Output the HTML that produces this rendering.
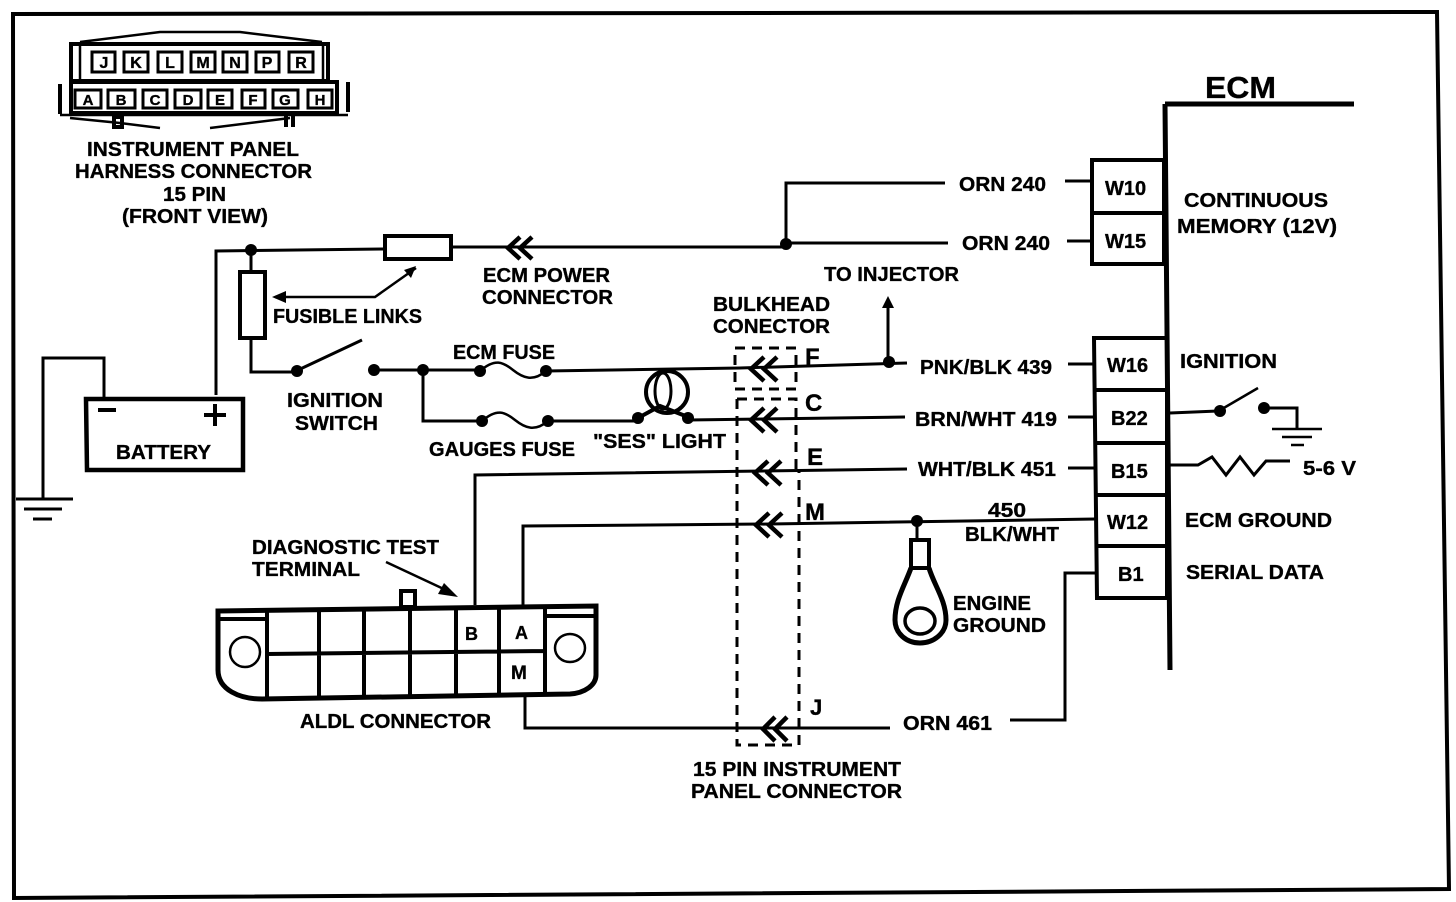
<!DOCTYPE html>
<html><head><meta charset="utf-8"><style>
html,body{margin:0;padding:0;background:#fff}
svg{display:block}
text{font-family:"Liberation Sans",sans-serif;font-weight:bold;fill:#000;stroke:#000;stroke-width:.35;font-size:20px}
.l{fill:none;stroke:#000;stroke-width:3}
.t{fill:none;stroke:#000;stroke-width:2.5}
.b{fill:none;stroke:#000;stroke-width:4}
.p{fill:none;stroke:#000;stroke-width:3}
.d{fill:none;stroke:#000;stroke-width:3;stroke-dasharray:10 7}
.a{fill:none;stroke:#000;stroke-width:4.5}
</style></head><body>
<svg width="1456" height="902" viewBox="0 0 1456 902" xmlns="http://www.w3.org/2000/svg">
<rect width="1456" height="902" fill="#fff"/>
<path d="M13 14L1437 12L1449 889L14 898Z" fill="none" stroke="#000" stroke-width="4"/>

<!-- front connector -->
<g>
<path class="b" d="M71 44H328V81H71Z"/><path class="t" d="M80 44V80M323 44V80M80 42L160 32H240L322 42"/>
<path class="b" d="M71 82H337V113H71Z"/>
<path class="b" d="M60 84V114M348 82V112" stroke-width="5"/>
<path class="t" d="M60 115H348M70 118L120 123 160 128M210 128L290 118"/>
<g class="p"><rect x="92" y="52" width="23" height="20"/><rect x="124" y="52" width="24" height="20"/><rect x="158" y="52" width="24" height="20"/><rect x="191" y="52" width="24" height="20"/><rect x="223" y="52" width="24" height="20"/><rect x="256" y="52" width="23" height="20"/><rect x="289" y="52" width="24" height="20"/>
<rect x="75" y="90" width="26" height="18"/><rect x="108" y="90" width="27" height="18"/><rect x="143" y="90" width="24" height="18"/><rect x="175" y="90" width="26" height="18"/><rect x="208" y="90" width="24" height="18"/><rect x="242" y="90" width="23" height="18"/><rect x="273" y="90" width="25" height="18"/><rect x="308" y="90" width="24" height="18"/></g>
<rect x="114" y="117" width="8" height="10" class="b"/><path class="b" d="M286 115V127M293 115V127"/>
<g text-anchor="middle">
<text x="104" y="68" style="font-size:16px">J</text><text x="136" y="68" style="font-size:16px">K</text><text x="170" y="68" style="font-size:16px">L</text><text x="203" y="68" style="font-size:16px">M</text><text x="235" y="68" style="font-size:16px">N</text><text x="267" y="68" style="font-size:16px">P</text><text x="301" y="68" style="font-size:16px">R</text>
<text x="88" y="105" style="font-size:15px">A</text><text x="121" y="105" style="font-size:15px">B</text><text x="155" y="105" style="font-size:15px">C</text><text x="188" y="105" style="font-size:15px">D</text><text x="220" y="105" style="font-size:15px">E</text><text x="253" y="105" style="font-size:15px">F</text><text x="285" y="105" style="font-size:15px">G</text><text x="320" y="105" style="font-size:15px">H</text>
</g>
</g>
<text x="87" y="156" textLength="212" lengthAdjust="spacingAndGlyphs">INSTRUMENT PANEL</text>
<text x="75" y="178" textLength="237" lengthAdjust="spacingAndGlyphs">HARNESS CONNECTOR</text>
<text x="163" y="201" textLength="63" lengthAdjust="spacingAndGlyphs">15 PIN</text>
<text x="122" y="223" textLength="146" lengthAdjust="spacingAndGlyphs">(FRONT VIEW)</text>

<!-- ECM -->
<text x="1205" y="98" style="font-size:31px" textLength="71" lengthAdjust="spacingAndGlyphs">ECM</text>
<path d="M1165 104H1354M1165 104L1170 670" fill="none" stroke="#000" stroke-width="5"/>
<path class="b" d="M1092 160H1164V264H1092ZM1092 213H1164"/>
<path class="b" d="M1094 338H1167V598H1097L1094 338ZM1095 390H1167M1095 443H1167M1096 495H1167M1097 546H1167"/>
<g>
<text x="1105" y="195">W10</text><text x="1105" y="248">W15</text><text x="1107" y="372">W16</text><text x="1111" y="425">B22</text><text x="1111" y="478">B15</text><text x="1107" y="529">W12</text><text x="1118" y="581">B1</text>
</g>
<text x="1184" y="207" textLength="144" lengthAdjust="spacingAndGlyphs">CONTINUOUS</text>
<text x="1177" y="233" textLength="160" lengthAdjust="spacingAndGlyphs">MEMORY (12V)</text>
<text x="1180" y="368" textLength="97" lengthAdjust="spacingAndGlyphs">IGNITION</text>
<text x="1185" y="527" textLength="147" lengthAdjust="spacingAndGlyphs">ECM GROUND</text>
<text x="1186" y="579" textLength="138" lengthAdjust="spacingAndGlyphs">SERIAL DATA</text>
<text x="1303" y="475" textLength="53" lengthAdjust="spacingAndGlyphs">5-6 V</text>

<!-- top wires -->
<path class="l" d="M786 243V183H945M1065 181H1091M786 243H948M1067 241H1091"/>
<path class="l" d="M216 395V251L384 249M452 247H786"/>
<circle cx="786" cy="244" r="6"/><circle cx="251" cy="250" r="6"/>
<rect x="385" y="236" width="66" height="23" class="b"/>
<path class="a" d="M520 237L508 248 520 259M532 237L520 248 532 259"/>
<text x="959" y="191" textLength="87" lengthAdjust="spacingAndGlyphs">ORN 240</text>
<text x="962" y="250" textLength="88" lengthAdjust="spacingAndGlyphs">ORN 240</text>
<text x="483" y="282" textLength="127" lengthAdjust="spacingAndGlyphs">ECM POWER</text>
<text x="482" y="304" textLength="131" lengthAdjust="spacingAndGlyphs">CONNECTOR</text>

<!-- fusible -->
<path class="l" d="M251 250V271"/>
<rect x="240" y="272" width="25" height="66" class="b"/>
<path class="l" d="M251 338V372H296M296 371L362 340M374 370H476"/>
<circle cx="297" cy="371" r="6"/><circle cx="374" cy="370" r="6"/><circle cx="423" cy="370" r="6"/>
<path class="t" d="M275 297L375 297 416 268"/>
<path d="M272 297l14-6v12ZM416 266l-12 4 7 8Z"/>
<text x="273" y="323" textLength="149" lengthAdjust="spacingAndGlyphs">FUSIBLE LINKS</text>
<text x="287" y="407" textLength="96" lengthAdjust="spacingAndGlyphs">IGNITION</text>
<text x="295" y="430" textLength="83" lengthAdjust="spacingAndGlyphs">SWITCH</text>

<!-- battery -->
<path class="l" d="M104 399V358H43V498"/>
<path d="M16 499H73" stroke="#000" stroke-width="3"/><path d="M24 509H62M33 519H52" stroke="#000" stroke-width="3"/>
<path d="M86 399H243V470H87Z" fill="none" stroke="#000" stroke-width="4.5"/>
<path d="M98 410H116M204 415H226M215 404V426" stroke="#000" stroke-width="4"/>
<text x="116" y="459" textLength="95" lengthAdjust="spacingAndGlyphs">BATTERY</text>

<!-- fuses -->
<path class="l" d="M423 370V421H480M548 421H637"/>
<circle cx="480" cy="371" r="6"/><circle cx="546" cy="371" r="6"/><circle cx="482" cy="421" r="6"/><circle cx="548" cy="421" r="6"/>
<path class="t" d="M480 371C495 358 503 362 513 370S533 382 546 371M482 421C497 408 505 412 515 420S535 432 548 421"/>
<text x="453" y="359" textLength="102" lengthAdjust="spacingAndGlyphs">ECM FUSE</text>
<text x="429" y="456" textLength="146" lengthAdjust="spacingAndGlyphs">GAUGES FUSE</text>
<text x="593" y="448" textLength="133" lengthAdjust="spacingAndGlyphs">"SES"  LIGHT</text>

<!-- SES -->
<circle cx="667" cy="392" r="21" fill="none" stroke="#000" stroke-width="4"/>
<ellipse cx="663" cy="391" rx="8" ry="18" fill="none" stroke="#000" stroke-width="3"/>
<path class="b" d="M638 418L660 406 688 417"/>
<circle cx="638" cy="418" r="6"/><circle cx="688" cy="418" r="6"/>
<path class="l" d="M688 420L905 417M1068 417H1094"/>

<!-- bulkhead -->
<path class="d" d="M735 348H796V389H735ZM737 399H796V470M737 399V745H799V470"/>
<path class="l" d="M546 371L740 368 907 363M1068 364H1094"/>
<circle cx="889" cy="362" r="6"/>
<path class="l" d="M888 362V303"/><path d="M888 296l-6 12h12Z"/>
<g class="a">
<path d="M764 357L751 369 764 381M777 357L764 369 777 381"/>
<path d="M764 408L751 420 764 432M777 408L764 420 777 432"/>
<path d="M768 461L755 473 768 485M781 461L768 473 781 485"/>
<path d="M769 513L756 525 769 537M782 513L769 525 782 537"/>
<path d="M775 717L763 729 775 741M787 717L775 729 787 741"/>
</g>
<text x="805" y="365" style="font-size:24px">F</text>
<text x="805" y="411" style="font-size:24px">C</text>
<text x="807" y="465" style="font-size:24px">E</text>
<text x="805" y="520" style="font-size:24px">M</text>
<text x="810" y="715" style="font-size:22px">J</text>
<text x="713" y="311" textLength="117" lengthAdjust="spacingAndGlyphs">BULKHEAD</text>
<text x="713" y="333" textLength="117" lengthAdjust="spacingAndGlyphs">CONECTOR</text>
<text x="824" y="281" textLength="135" lengthAdjust="spacingAndGlyphs">TO INJECTOR</text>
<text x="920" y="374" textLength="132" lengthAdjust="spacingAndGlyphs">PNK/BLK 439</text>
<text x="915" y="426" textLength="142" lengthAdjust="spacingAndGlyphs">BRN/WHT 419</text>
<text x="918" y="476" textLength="138" lengthAdjust="spacingAndGlyphs">WHT/BLK 451</text>
<text x="988" y="517" textLength="38" lengthAdjust="spacingAndGlyphs">450</text>
<text x="965" y="541" textLength="94" lengthAdjust="spacingAndGlyphs">BLK/WHT</text>
<text x="903" y="730" textLength="89" lengthAdjust="spacingAndGlyphs">ORN 461</text>
<text x="693" y="776" textLength="208" lengthAdjust="spacingAndGlyphs">15 PIN INSTRUMENT</text>
<text x="691" y="798" textLength="211" lengthAdjust="spacingAndGlyphs">PANEL  CONNECTOR</text>

<!-- lower wires -->
<path class="l" d="M475 605V475L907 469M1068 468H1094"/>
<path class="l" d="M523 605V526L770 524 1095 519"/>
<circle cx="917" cy="521" r="6"/>
<path class="l" d="M917 521V540"/>
<rect x="911" y="540" width="18" height="28" fill="none" stroke="#000" stroke-width="4"/>
<path d="M911 568C905 585 895 600 895 620C895 633 906 643 920 643C934 643 946 633 946 620C946 600 934 585 929 568" fill="none" stroke="#000" stroke-width="5"/>
<ellipse cx="920" cy="621" rx="15" ry="13" fill="none" stroke="#000" stroke-width="3.5"/>
<text x="953" y="610" textLength="78" lengthAdjust="spacingAndGlyphs">ENGINE</text>
<text x="953" y="632" textLength="93" lengthAdjust="spacingAndGlyphs">GROUND</text>
<path class="l" d="M525 696V728H770H890M1010 720H1065V573H1096"/>

<!-- right side -->
<path class="l" d="M1170 413L1218 411M1265 408H1297V428"/>
<circle cx="1220" cy="411" r="6"/><circle cx="1264" cy="408" r="6"/>
<path class="t" d="M1222 409L1258 388"/>
<path class="t" d="M1272 429H1322M1282 437H1312M1291 445H1304"/>
<path class="l" d="M1170 465H1198L1212 457 1226 475 1240 457 1254 475 1266 461H1290"/>

<!-- ALDL -->
<path d="M218 611L596 606V675C596 685 585 693 570 694L262 699C240 699 218 690 218 670Z" fill="none" stroke="#000" stroke-width="5"/>
<path class="b" d="M267 611V697M319 610V697M364 609V697M410 609V696M456 608V696M499 608V696M545 608V695M218 619H266M546 616H596M267 654L545 651"/>
<rect x="401" y="591" width="14" height="16" fill="none" stroke="#000" stroke-width="4"/>
<circle cx="245" cy="652" r="15" fill="none" stroke="#000" stroke-width="2.5"/>
<ellipse cx="570" cy="648" rx="15" ry="14" fill="none" stroke="#000" stroke-width="2.5"/>
<text x="465" y="640" style="font-size:18px">B</text><text x="515" y="639" style="font-size:18px">A</text><text x="511" y="679" style="font-size:19px">M</text>
<text x="252" y="554" textLength="187" lengthAdjust="spacingAndGlyphs">DIAGNOSTIC TEST</text>
<text x="252" y="576" textLength="108" lengthAdjust="spacingAndGlyphs">TERMINAL</text>
<path class="t" d="M386 562L448 591"/><path d="M458 597l-20-3 6-11Z"/>
<text x="300" y="728" textLength="191" lengthAdjust="spacingAndGlyphs">ALDL CONNECTOR</text>
</svg>
</body></html>
